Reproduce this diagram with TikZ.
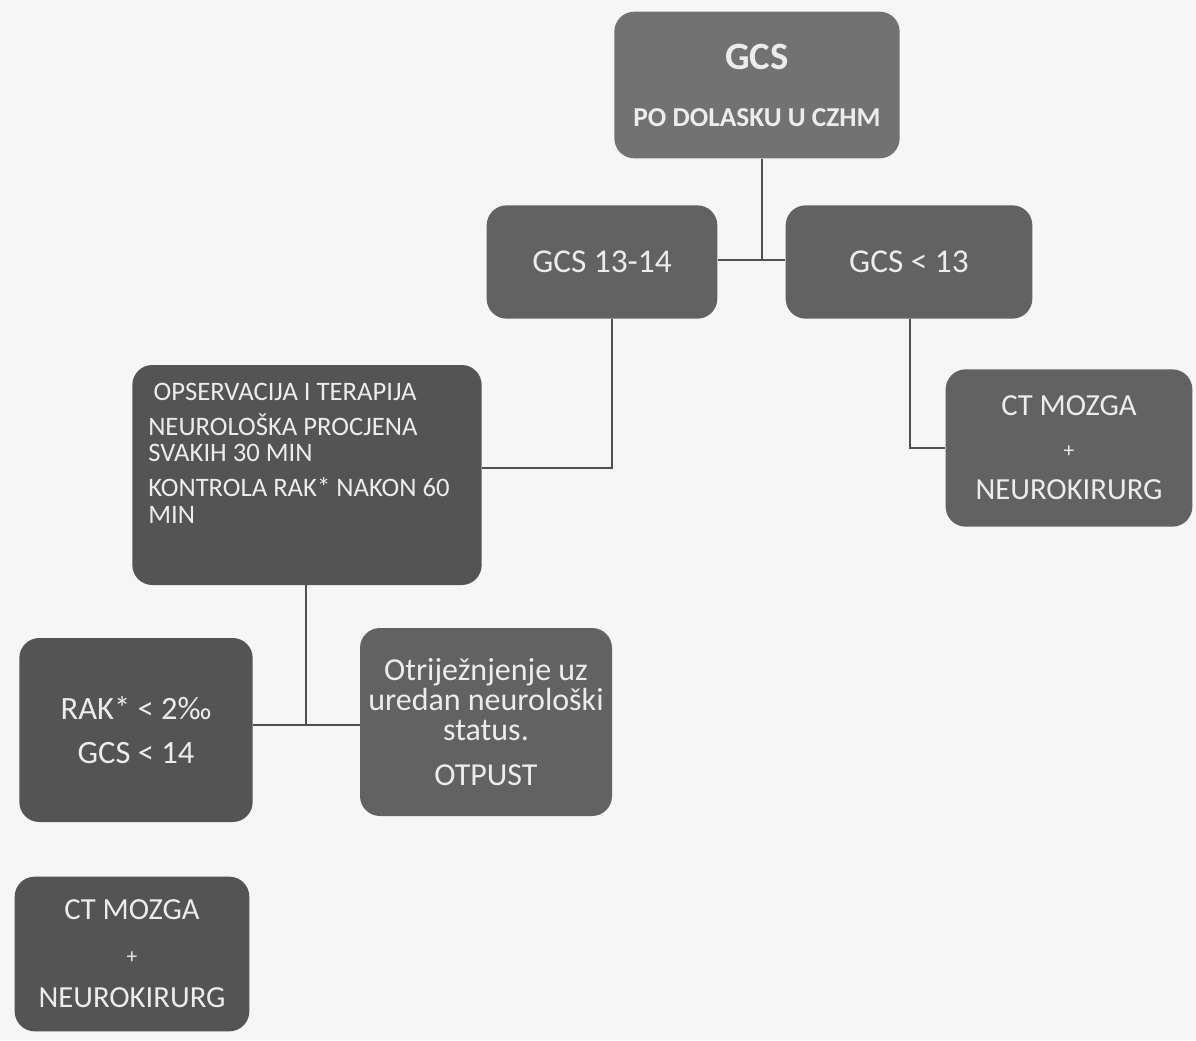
\documentclass[tikz,border=0pt]{standalone}
\usepackage{fontspec}
\setmainfont{Carlito}
\begin{document}
\begin{tikzpicture}[x=0.75pt,y=-0.75pt,
  box/.style={draw=none,fill=boxgray,rounded corners=15pt,text=boxtext,align=center,inner sep=0pt},
  conn/.style={draw=linegray,line width=1.3pt}]
\definecolor{boxgray}{RGB}{98,98,98}
\definecolor{boxdark}{RGB}{84,84,84}
\definecolor{boxtext}{RGB}{236,236,236}
\definecolor{linegray}{RGB}{80,80,80}
\definecolor{bg}{RGB}{246,246,246}
\fill[bg] (0,0) rectangle (1196,1040);
\useasboundingbox (0,0) rectangle (1196,1040);
% nodes
\node[box,fill=boxgray!90!white,minimum width=214pt,minimum height=110pt,
  font=\bfseries] (top) at (757,85)
  {{\fontsize{29}{30}\selectfont GCS}\\[28pt]{\fontsize{20.5}{22}\selectfont PO DOLASKU U CZHM}};
\node[box,minimum width=173pt,minimum height=85pt,font=\fontsize{25}{28}\selectfont] (g1) at (602,262)
  {GCS 13-14};
\node[box,minimum width=185pt,minimum height=85pt,font=\fontsize{25}{28}\selectfont] (g2) at (909,262)
  {GCS < 13};
\node[box,fill=boxdark,minimum width=262pt,minimum height=165pt] (obs) at (307,475) {};
\node[anchor=north west,text=boxtext,align=left,inner sep=0pt,
  font=\fontsize{20}{20}\selectfont] (obstext) at (148,383)
  {\hspace*{4pt}OPSERVACIJA I TERAPIJA\\[6pt]
   NEUROLOŠKA PROCJENA\\
   SVAKIH 30 MIN\\[6pt]
   KONTROLA RAK* NAKON 60\\
   MIN};
\node[box,minimum width=185pt,minimum height=118pt,font=\fontsize{23}{31.5}\selectfont] (ct1) at (1069,448)
  {CT MOZGA\\{\fontsize{16}{18}\selectfont +}\\NEUROKIRURG};
\node[box,fill=boxdark,minimum width=175pt,minimum height=138pt,font=\fontsize{24.4}{33}\selectfont] (rak) at (136,730)
  {RAK* < 2‰\\GCS < 14};
\node[box,minimum width=189pt,minimum height=141pt,font=\fontsize{24}{22.5}\selectfont] (otr) at (486,722)
  {Otriježnjenje uz\\uredan neurološki\\status.\\[11pt]OTPUST};
\node[box,fill=boxdark,minimum width=176pt,minimum height=116pt,font=\fontsize{23}{33}\selectfont] (ct2) at (132,954)
  {CT MOZGA\\{\fontsize{16}{18}\selectfont +}\\NEUROKIRURG};
% connectors
\coordinate (j1) at (762,260);
\draw[conn] (g1.east |- j1) -- (g2.west |- j1);
\draw[conn] (top.south -| j1) -- (j1);
\coordinate (j2) at (612,468);
\draw[conn] (g1.south -| j2) -- (j2) -- (obs.east |- j2);
\coordinate (j3) at (910,448);
\draw[conn] (g2.south -| j3) -- (j3) -- (ct1.west |- j3);
\coordinate (j4) at (306,725);
\draw[conn] (rak.east |- j4) -- (otr.west |- j4);
\draw[conn] (obs.south -| j4) -- (j4);
\end{tikzpicture}
\end{document}
